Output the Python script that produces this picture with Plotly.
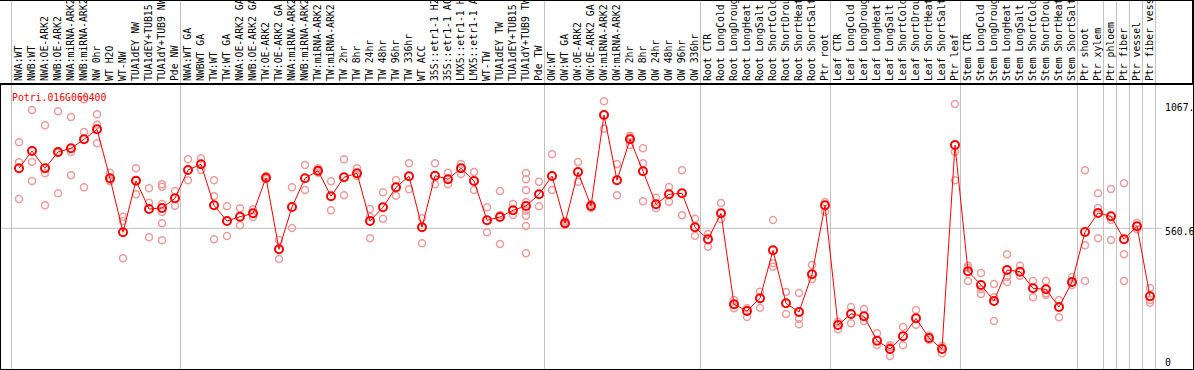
import plotly.graph_objects as go

# ---------------- data ----------------
title_text = "Potri.016G060400"

labels = [
    "NWA:WT", "NWB:WT", "NWA:OE-ARK2", "NWB:OE-ARK2", "NWA:miRNA-ARK2", "NWB:miRNA-ARK2",
    "NW 0hr", "WT H2O", "WT-NW", "TUA1dEY NW", "TUA1dEY+TUB15 NW", "TUA1dY+TUB9 NW", "Pde NW",
    "NWA:WT GA", "NWBWT GA", "TW:WT", "TW:WT GA", "NWA:OE-ARK2 GA", "NWB:OE-ARK2 GA",
    "TW:OE-ARK2", "TW:OE-ARK2 GA", "NWA:miRNA-ARK2", "NWB:miRNA-ARK2", "TW:miRNA-ARK2",
    "TW:miRNA-ARK2", "TW 2hr", "TW 8hr", "TW 24hr", "TW 48hr", "TW 96hr", "TW 336hr",
    "WT ACC", "35S::etr1-1 H2O", "35S::etr1-1 ACC", "LMX5::etr1-1 H2O", "LMX5::etr1-1 ACC",
    "WT-TW", "TUA1dEY TW", "TUA1dEY+TUB15 TW", "TUA1dY+TUB9 TW", "Pde TW",
    "OW:WT", "OW:WT GA", "OW:OE-ARK2", "OW:OE-ARK2 GA", "OW:miRNA-ARK2", "OW:miRNA-ARK2",
    "OW 2hr", "OW 8hr", "OW 24hr", "OW 48hr", "OW 96hr", "OW 336hr",
    "Root CTR", "Root LongCold", "Root LongDrought", "Root LongHeat", "Root LongSalt",
    "Root ShortCold", "Root ShortDrought", "Root ShortHeat", "Root ShortSalt", "Ptr root",
    "Leaf CTR", "Leaf LongCold", "Leaf LongDrought", "Leaf LongHeat", "Leaf LongSalt",
    "Leaf ShortCold", "Leaf ShortDrought", "Leaf ShortHeat", "Leaf ShortSalt", "Ptr leaf",
    "Stem CTR", "Stem LongCold", "Stem LongDrought", "Stem LongHeat", "Stem LongSalt",
    "Stem ShortCold", "Stem ShortDrought", "Stem ShortHeat", "Stem ShortSalt",
    "Ptr shoot", "Ptr xylem", "Ptr phloem", "Ptr fiber", "Ptr vessel", "Ptr fiber vessel",
]

means = [
    812.2, 884.7, 812.2, 880.5, 896.0, 933.8, 975.7, 770.3, 543.8, 760.2,
    641.5, 645.7, 686.4, 805.1, 829.0, 657.0, 591.2, 609.2, 623.5, 772.8,
    472.6, 649.9, 770.3, 802.1, 694.8, 774.4, 791.2, 591.2, 648.7, 732.5,
    778.6, 564.8, 781.2, 766.1, 812.2, 758.9, 594.1, 608.0, 636.1, 654.1,
    703.2, 779.9, 581.6, 796.7, 654.1, 1035.7, 761.9, 933.8, 799.6, 661.2,
    703.2, 707.4, 564.8, 514.5, 623.5, 241.9, 213.8, 267.1, 468.4, 246.1,
    209.7, 367.7, 657.0, 155.1, 201.3, 191.6, 89.3, 54.5, 107.8, 183.2,
    100.6, 54.5, 909.9, 380.3, 322.9, 255.8, 385.8, 378.6, 309.0, 304.8,
    230.6, 335.4, 545.1, 624.8, 610.9, 514.5, 569.0, 275.5,
]

replicates = [
    [921.2, 837.3, 683.5], [1056.6, 838.6, 758.9], [992.5, 791.2, 657.0],
    [1051.2, 877.6, 707.4], [1027.3, 880.5, 782.8], [1101.5, 964.4, 732.5],
    [1038.6, 995.0, 917.0], [793.7, 760.2, 758.9], [609.2, 591.2, 434.8],
    [812.2, 760.2, 703.2], [728.3, 667.9, 522.9],
    [745.1, 735.0, 662.5, 629.0, 581.6, 510.3],
    [717.0, 655.4], [849.9, 761.9], [854.1, 805.1], [761.9, 694.8, 514.5],
    [652.9, 528.3], [644.5, 573.2], [640.3, 608.0], [779.9, 772.8, 767.3],
    [511.5, 431.9], [732.5, 561.9], [826.0, 721.2], [812.2, 800.9, 793.7],
    [757.7, 636.1], [849.9, 699.0], [812.2, 779.9], [641.5, 609.2, 518.7],
    [711.6, 600.9], [763.1, 697.3], [833.2, 724.1], [602.5, 497.7],
    [833.2, 745.1], [793.7, 745.1], [830.2, 788.3], [796.7, 721.2],
    [648.7, 543.8], [717.0, 616.4, 494.8], [662.5, 616.4],
    [792.5, 766.1, 719.9, 670.9, 634.4, 613.4, 570.2, 455.8],
    [756.0, 652.9], [870.9, 721.2], [591.2, 581.6, 574.4], [838.6, 756.0],
    [662.5, 654.1, 645.7], [1093.1, 978.2], [830.2, 699.0], [948.9, 942.2, 909.9],
    [896.0, 833.2, 673.8], [688.9, 644.5], [733.8, 672.1], [803.8, 615.1],
    [600.9, 529.6], [536.7, 483.5], [666.7, 599.6], [260.0, 225.2],
    [225.2, 188.7], [294.8, 227.7], [595.4, 413.9, 399.6], [293.5, 201.3],
    [289.3, 181.6, 158.1], [406.7, 348.0], [670.9, 630.2], [169.0, 137.1],
    [230.6, 162.3], [222.2, 171.9], [120.3, 71.3], [70.0, 62.9, 25.2],
    [146.8, 70.0], [218.0, 156.4], [110.3, 92.2], [67.1, 36.5],
    [1081.8, 880.5, 761.9], [403.8, 395.4, 339.6], [373.2, 304.8, 285.1],
    [327.1, 271.3, 171.9], [451.6, 357.7, 335.4], [403.8, 361.9],
    [339.6, 271.3], [339.6, 288.1, 282.2], [260.0, 187.4], [356.4, 322.9],
    [803.8, 489.3, 339.6], [707.4, 645.7, 518.7], [725.4, 595.4, 511.5],
    [749.3, 451.6, 339.6], [584.1, 556.4], [310.3, 260.0, 248.6],
]

# last category index of each sample group (separators drawn after them)
group_ends = [-1, 12, 40, 52, 62, 72, 81, 83, 84, 85, 86, 87]

ytick_vals = [1067, 560.6, 0]
ytick_text = ["1067.", "560.6", "0"]
grid_value = 560.6

# ---------------- figure ----------------
W, H = 1194, 370
ML, MR, MT, MB = 1, 1, 85, 1
plot_w = W - ML - MR
plot_h = H - MT - MB
top_paper = 1 + MT / plot_h

x = list(range(len(labels)))
rx, ry = [], []
for i, rr in enumerate(replicates):
    for v in rr:
        rx.append(i)
        ry.append(v)

mono = "DejaVu Sans Mono"
fsize = 9.8

fig = go.Figure()
fig.add_trace(go.Scatter(
    x=rx, y=ry, mode="markers",
    marker=dict(symbol="circle-open", size=7, color="rgb(240,155,155)",
                line=dict(width=1.5, color="rgb(240,155,155)")),
    hoverinfo="skip", showlegend=False,
))
fig.add_trace(go.Scatter(
    x=x, y=means, mode="lines+markers",
    line=dict(color="#ff0000", width=1),
    marker=dict(symbol="circle-open", size=8, color="#ff0000",
                line=dict(width=2, color="#ff0000")),
    showlegend=False,
))

shapes = []
# group separators (through label area too)
for k in group_ends:
    shapes.append(dict(type="line", xref="x", yref="paper",
                       x0=k + 0.42, x1=k + 0.42, y0=0, y1=top_paper,
                       line=dict(color="#c0c0c0", width=1), layer="below"))
# horizontal grid line
shapes.append(dict(type="line", xref="paper", yref="y",
                   x0=0, x1=(1162 - ML) / plot_w, y0=grid_value, y1=grid_value,
                   line=dict(color="#c0c0c0", width=1), layer="below"))
# outer frame parts outside the plot area
shapes.append(dict(type="line", xref="paper", yref="paper",
                   x0=-ML / plot_w, x1=1 + MR / plot_w, y0=top_paper, y1=top_paper,
                   line=dict(color="black", width=2)))
shapes.append(dict(type="line", xref="paper", yref="paper",
                   x0=1, x1=1, y0=1, y1=top_paper,
                   line=dict(color="black", width=2)))

annotations = [dict(
    text=title_text, xref="paper", yref="paper",
    x=(10 - ML) / plot_w, y=(H - MB - 97) / plot_h,
    xanchor="left", yanchor="middle", showarrow=False,
    font=dict(family=mono, size=fsize, color="#ff0000"),
)]
yshifts = [0, -3, 0]
for v, t, s in zip(ytick_vals, ytick_text, yshifts):
    annotations.append(dict(
        text=t, xref="paper", yref="y", x=(1163 - ML) / plot_w, y=v,
        xanchor="left", yanchor="middle", yshift=s, showarrow=False,
        font=dict(family=mono, size=fsize, color="black"),
    ))

fig.update_layout(
    width=W, height=H,
    margin=dict(l=ML, r=MR, t=MT, b=MB, pad=0),
    paper_bgcolor="white", plot_bgcolor="rgba(0,0,0,0)",
    shapes=shapes, annotations=annotations,
    xaxis=dict(
        side="top", range=[(ML - 19) / 13, (W - MR - 19) / 13],
        tickmode="array", tickvals=x, ticktext=labels, tickangle=-90,
        tickfont=dict(family=mono, size=fsize, color="black"),
        ticks="", showgrid=False, zeroline=False,
        showline=True, mirror=True, linecolor="black", linewidth=2,
        automargin=False,
    ),
    yaxis=dict(
        range=[-(H - MB - 362) * 4.193, (362 - MT) * 4.193],
        showticklabels=False, ticks="", showgrid=False, zeroline=False,
        showline=True, mirror=True, linecolor="black", linewidth=2,
        automargin=False,
    ),
)

fig.write_html(
    "out.html",
    config={"displayModeBar": False},
    post_script="document.body.style.margin='0';document.body.style.overflow='hidden';",
)
